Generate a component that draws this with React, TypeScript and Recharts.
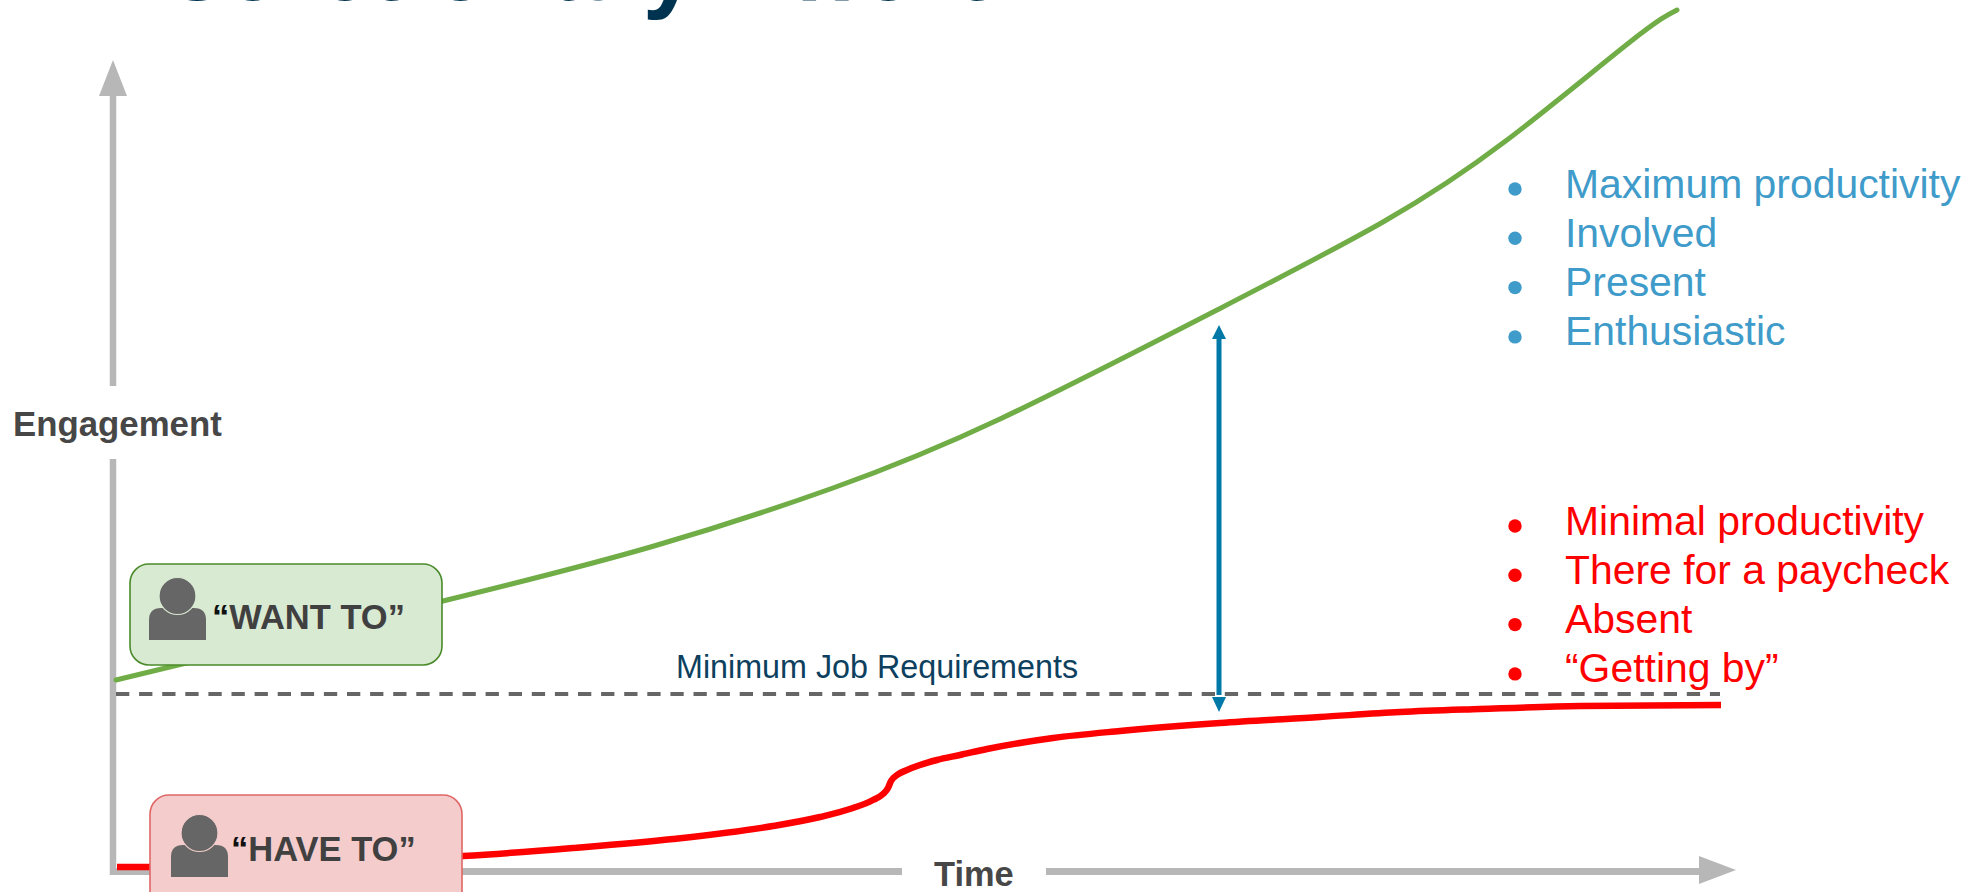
import { LineChart, Line, XAxis, YAxis, ReferenceLine, ReferenceDot } from "recharts";

const WIDTH = 1980;
const HEIGHT = 892;

const FONT = "'Liberation Sans', Arial, sans-serif";

// Engagement over time, in chart units
const wantToTime = [116, 443, 654, 833, 1000, 1217, 1383, 1507, 1630, 1677];
const wantToLevel = [212, 291, 346, 404, 473, 582, 670, 752, 850, 882];

const haveToTime = [117, 149, 300, 463, 573, 673, 773, 820, 853, 873, 883, 888, 891, 897, 907, 920, 937, 960, 987, 1053, 1120, 1220, 1320, 1400, 1480, 1580, 1721];
const haveToLevel = [25, 25, 30, 36, 44, 53, 66, 75, 84, 92, 98, 104, 111, 117, 122, 127, 132, 137, 143, 154, 161, 169, 175, 180, 183, 186, 187];

const minimumLevel = 198;
const minimumLabel = "Minimum Job Requirements";
const gapTime = 1219;

const engagedTraits = ["Maximum productivity", "Involved", "Present", "Enthusiastic"];
const disengagedTraits = ["Minimal productivity", "There for a paycheck", "Absent", "\u201CGetting by\u201D"];

const zip = (xs: number[], ys: number[]) => xs.map((time, i) => ({ time, level: ys[i] }));
const wantToData = zip(wantToTime, wantToLevel);
const haveToData = zip(haveToTime, haveToLevel);

const AXIS_GREY = "#b7b7b7";
const GAP_BLUE = "#0079a8";

type ShapeProps = { cx?: number; cy?: number };

// Triangle arrow head; dir is the direction it points in
function arrowHead(fill: string, length: number, half: number, dir: "up" | "down" | "right") {
  return ({ cx = 0, cy = 0 }: ShapeProps) => {
    const pts =
      dir === "up"
        ? `${cx},${cy} ${cx - half},${cy + length} ${cx + half},${cy + length}`
        : dir === "down"
          ? `${cx},${cy} ${cx - half},${cy - length} ${cx + half},${cy - length}`
          : `${cx},${cy} ${cx - length},${cy - half} ${cx - length},${cy + half}`;
    return <polygon points={pts} fill={fill} />;
  };
}

function label(text: string, fontSize: number, fill: string, weight: string = "normal", wordSpacing: number = 0) {
  return ({ cx = 0, cy = 0 }: ShapeProps) => (
    <text x={cx} y={cy} fontFamily={FONT} fontSize={fontSize} fontWeight={weight} fill={fill} style={{ wordSpacing }}>
      {text}
    </text>
  );
}

// Rounded speech box with a person icon and a bold quote
function callout(text: string, fill: string, stroke: string, height: number, iconX: number, iconY: number, textX: number, textY: number) {
  return ({ cx = 0, cy = 0 }: ShapeProps) => {
    const ix = cx + iconX;
    const iy = cy + iconY;
    return (
      <g>
        <rect x={cx} y={cy} width={312} height={height} rx={19} fill={fill} stroke={stroke} strokeWidth={1.6} />
        <path
          d={`M${ix} ${iy + 32} V${iy + 12} Q${ix} ${iy} ${ix + 12} ${iy} H${ix + 45} Q${ix + 57} ${iy} ${ix + 57} ${iy + 12} V${iy + 32} Z`}
          fill="#666666"
        />
        <circle cx={ix + 28.5} cy={iy - 12} r={18.5} fill="#666666" stroke={fill} strokeWidth={1.2} />
        <text x={cx + textX} y={cy + textY} fontFamily={FONT} fontSize={34.5} fontWeight="bold" fill="#404040">
          <tspan fill="#111111">{"\u201C"}</tspan>
          {text}
          {"\u201D"}
        </text>
      </g>
    );
  };
}

export default function App() {
  return (
    <div style={{ position: "absolute", left: 0, top: 0, width: WIDTH, height: HEIGHT, overflow: "hidden", background: "#fff" }}>
      <LineChart width={WIDTH} height={HEIGHT} margin={{ top: 0, right: 0, bottom: 0, left: 0 }}>
        <XAxis type="number" dataKey="time" domain={[0, WIDTH]} hide />
        <YAxis type="number" dataKey="level" domain={[0, HEIGHT]} hide />

        <ReferenceDot x={72} y={892} r={0} ifOverflow="visible" shape={label("Discretionary Effort", 97.8, "#003350", "bold", 4)} />

        {/* axes, broken around their titles */}
        <ReferenceLine segment={[{ x: 113, y: 17 }, { x: 113, y: 433 }]} stroke={AXIS_GREY} strokeWidth={6.5} ifOverflow="visible" />
        <ReferenceLine segment={[{ x: 113, y: 506 }, { x: 113, y: 796 }]} stroke={AXIS_GREY} strokeWidth={6.5} ifOverflow="visible" />
        <ReferenceLine segment={[{ x: 110, y: 20.5 }, { x: 902, y: 20.5 }]} stroke={AXIS_GREY} strokeWidth={7} ifOverflow="visible" />
        <ReferenceLine segment={[{ x: 1046, y: 20.5 }, { x: 1700, y: 20.5 }]} stroke={AXIS_GREY} strokeWidth={7} ifOverflow="visible" />
        <ReferenceDot x={113} y={832} r={0} ifOverflow="visible" shape={arrowHead(AXIS_GREY, 36, 14, "up")} />
        <ReferenceDot x={1736} y={22} r={0} ifOverflow="visible" shape={arrowHead(AXIS_GREY, 37, 14, "right")} />

        <ReferenceLine
          segment={[{ x: 116, y: minimumLevel }, { x: 1720, y: minimumLevel }]}
          stroke="#666666"
          strokeWidth={4}
          strokeDasharray="13.3 9.8"
          ifOverflow="visible"
        />

        <Line data={wantToData} dataKey="level" type="natural" stroke="#70ad47" strokeWidth={5} strokeLinecap="round" dot={false} activeDot={false} isAnimationActive={false} />
        <Line data={haveToData} dataKey="level" type="monotoneX" stroke="#ff0000" strokeWidth={6.5} dot={false} activeDot={false} isAnimationActive={false} />

        {/* gap between the two curves */}
        <ReferenceLine segment={[{ x: gapTime, y: 555 }, { x: gapTime, y: 197 }]} stroke={GAP_BLUE} strokeWidth={5} ifOverflow="visible" />
        <ReferenceDot x={gapTime} y={567} r={0} ifOverflow="visible" shape={arrowHead(GAP_BLUE, 14, 7, "up")} />
        <ReferenceDot x={gapTime} y={180} r={0} ifOverflow="visible" shape={arrowHead(GAP_BLUE, 15, 7, "down")} />

        <ReferenceDot x={130} y={328} r={0} ifOverflow="visible" shape={callout("WANT TO", "#d9ead3", "#4a8a2a", 101, 19, 44, 82, 65)} />
        <ReferenceDot x={150} y={97} r={0} ifOverflow="visible" shape={callout("HAVE TO", "#f4cccc", "#e06666", 120, 21, 50, 81, 66)} />

        <ReferenceDot x={13} y={456} r={0} ifOverflow="visible" shape={label("Engagement", 34.8, "#474747", "bold")} />
        <ReferenceDot x={934} y={6} r={0} ifOverflow="visible" shape={label("Time", 34.4, "#474747", "bold")} />
        <ReferenceDot x={676} y={214} r={0} ifOverflow="visible" shape={label(minimumLabel, 32.3, "#0d3f5f")} />

        {engagedTraits.map((trait, i) => (
          <ReferenceDot key={trait} x={1565} y={694 - i * 49} r={0} ifOverflow="visible" shape={label(trait, 40.9, "#3f9bc9")} />
        ))}
        {engagedTraits.map((trait, i) => (
          <ReferenceDot key={`dot-${trait}`} x={1515} y={703 - i * 49.3} r={6.7} fill="#3f9bc9" stroke="none" ifOverflow="visible" />
        ))}
        {disengagedTraits.map((trait, i) => (
          <ReferenceDot key={trait} x={1565} y={357 - i * 49} r={0} ifOverflow="visible" shape={label(trait, 40.9, "#ff0000")} />
        ))}
        {disengagedTraits.map((trait, i) => (
          <ReferenceDot key={`dot-${trait}`} x={1515} y={366 - i * 49.3} r={6.7} fill="#ff0000" stroke="none" ifOverflow="visible" />
        ))}
      </LineChart>
    </div>
  );
}
